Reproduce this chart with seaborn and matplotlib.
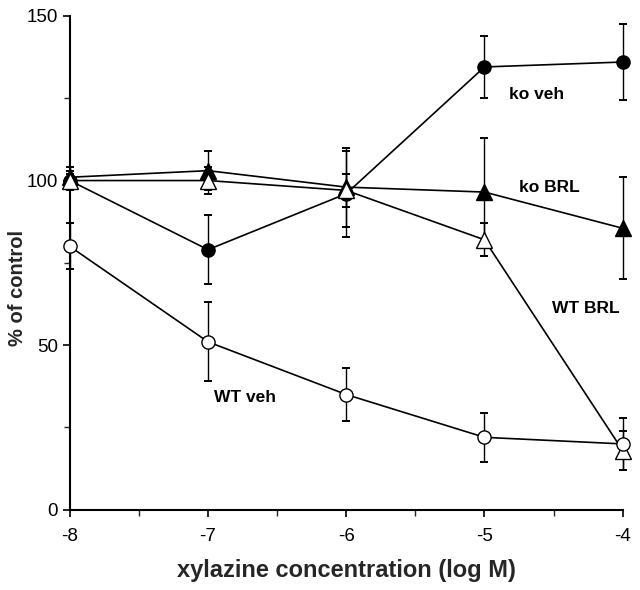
import matplotlib
matplotlib.use("Agg")
import matplotlib.pyplot as plt
import seaborn as sns
import pandas as pd
from matplotlib.ticker import MultipleLocator

# ---- data ----
log_conc = [-8, -7, -6, -5, -4]
ko_veh = [100, 79, 96, 134.5, 136]
ko_veh_err = [3, 10.5, 13, 9.5, 11.5]
ko_brl = [101, 103, 98, 96.5, 85.5]
ko_brl_err = [3, 6, 12, 16.5, 15.5]
wt_brl = [100, 100, 97, 82, 18]
wt_brl_err = [2, 4, 5, 5, 6]
wt_veh = [80, 51, 35, 22, 20]
wt_veh_err = [7, 12, 8, 7.5, 8]

series_names = ["ko veh", "ko BRL", "WT BRL", "WT veh"]
values = [ko_veh, ko_brl, wt_brl, wt_veh]
errors = [ko_veh_err, ko_brl_err, wt_brl_err, wt_veh_err]

rows = []
for name, vals, errs in zip(series_names, values, errors):
    for x, v, e in zip(log_conc, vals, errs):
        rows.append({"conc": x, "pct": v, "err": e, "series": name})
df = pd.DataFrame(rows)

sns.set_style("ticks")
plt.rcParams["font.family"] = ["Liberation Sans", "DejaVu Sans"]

fig = plt.figure(figsize=(6.4, 5.9), dpi=100)
ax = fig.add_axes([0.109, 0.136, 0.864, 0.837])

styles = {
    "ko veh": dict(mfc="black", ms=9.5),
    "ko BRL": dict(mfc="black", ms=11.5),
    "WT BRL": dict(mfc="white", ms=11),
    "WT veh": dict(mfc="white", ms=9.5),
}

# error bars
for name in series_names:
    sub = df[df.series == name]
    ax.errorbar(sub.conc, sub.pct, yerr=sub.err, fmt="none", ecolor="black",
                elinewidth=1.0, capsize=2.6, capthick=1.4, clip_on=False, zorder=2)

# lines with markers via seaborn
sns.lineplot(data=df, x="conc", y="pct", hue="series", style="series",
             palette={n: "black" for n in series_names},
             markers={"ko veh": "o", "ko BRL": "^", "WT BRL": "^", "WT veh": "o"},
             dashes=False, legend=False, ax=ax, linewidth=1.2, zorder=3)

ax_lines = [l for l in ax.lines if l.get_marker() in ("o", "^")]
for line, name in zip(ax_lines, series_names):
    st = styles[name]
    line.set_markerfacecolor(st["mfc"])
    line.set_markeredgecolor("black")
    line.set_markersize(st["ms"])
    line.set_markeredgewidth(1.0)
    line.set_clip_on(False)

ax.set_xlim(-8, -4)
ax.set_ylim(0, 150)
ax.set_xticks(log_conc)
ax.set_xticklabels([str(v) for v in log_conc])
ax.set_yticks([0, 50, 100, 150])
ax.xaxis.set_minor_locator(MultipleLocator(0.5))
ax.yaxis.set_minor_locator(MultipleLocator(25))
ax.tick_params(axis="both", which="major", direction="out", length=5, width=1.2,
               labelsize=13.5, colors="black")
ax.tick_params(axis="x", which="major", pad=8)
ax.tick_params(axis="both", which="minor", direction="out", length=4, width=1.0)
for s in ["top", "right"]:
    ax.spines[s].set_visible(False)
for s in ["left", "bottom"]:
    ax.spines[s].set_linewidth(1.5)
    ax.spines[s].set_color("black")

ax.set_xlabel("xylazine concentration (log M)", fontsize=17, fontweight="bold", labelpad=10)
ax.set_ylabel("% of control", fontsize=14.5, fontweight="bold")
ax.yaxis.set_label_coords(-0.077, 0.45)

txt = dict(fontsize=12.5, fontweight="bold", color="black")
ax.text(-4.62, 126, "ko veh", ha="center", va="center", **txt)
ax.text(-4.53, 98, "ko BRL", ha="center", va="center", **txt)
ax.text(-4.02, 61, "WT BRL", ha="right", va="center", **txt)
ax.text(-6.96, 34, "WT veh", ha="left", va="center", **txt)

fig.savefig("out.png", dpi=100)
